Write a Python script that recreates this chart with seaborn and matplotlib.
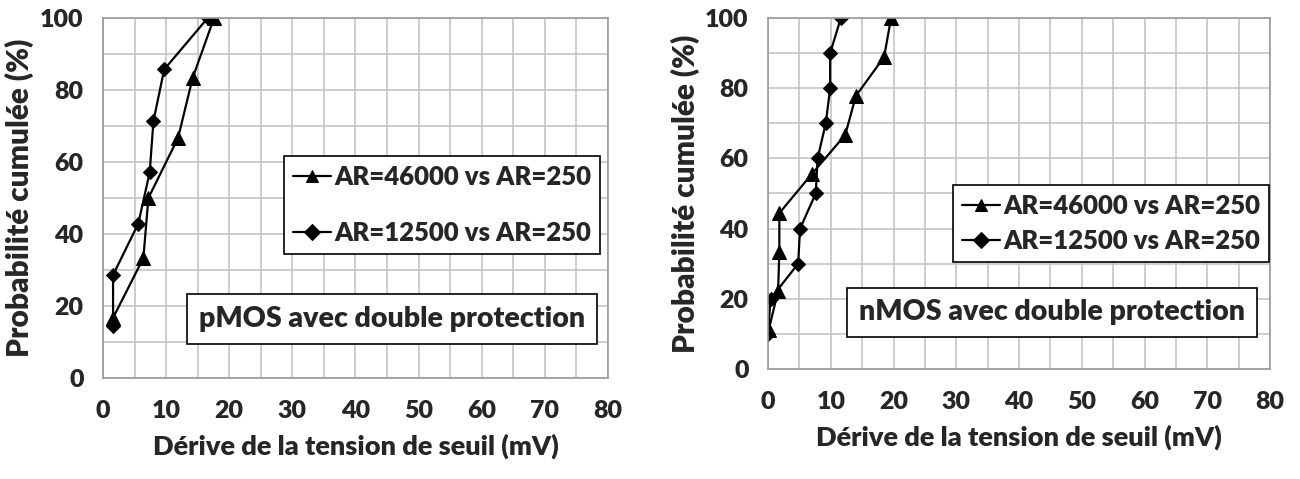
import numpy as np
import pandas as pd
import matplotlib
matplotlib.use("Agg")
import matplotlib.pyplot as plt
from matplotlib.ticker import MultipleLocator
import seaborn as sns

# Data
# -------------------------------------------------------------
SERIES = ["AR=46000 vs AR=250", "AR=12500 vs AR=250"]

# pMOS (double protection)
p_x_46000 = [1.6, 6.4, 7.2, 11.9, 14.2, 17.6]
p_y_46000 = [16.7, 33.3, 50.0, 66.7, 83.3, 100.0]
p_x_12500 = [1.6, 1.6, 5.6, 7.4, 8.0, 9.7, 16.6]
p_y_12500 = [14.3, 28.6, 42.9, 57.1, 71.4, 85.7, 100.0]

# nMOS (double protection)
n_x_46000 = [0.1, 1.6, 1.8, 1.8, 7.0, 12.3, 14.0, 18.5, 19.6]
n_y_46000 = [11.1, 22.2, 33.3, 44.4, 55.6, 66.7, 77.8, 88.9, 100.0]
n_x_12500 = [0.0, 0.4, 4.8, 5.1, 7.6, 7.9, 9.2, 9.9, 9.9, 11.6]
n_y_12500 = [10, 20, 30, 40, 50, 60, 70, 80, 90, 100]

PANEL_TITLES = ["pMOS avec double protection", "nMOS avec double protection"]
X_LABEL = "Dérive de la tension de seuil (mV)"
Y_LABEL = "Probabilité cumulée (%)"


def make_df(x46, y46, x125, y125):
    a = pd.DataFrame({"x": x46, "y": y46, "serie": SERIES[0]})
    b = pd.DataFrame({"x": x125, "y": y125, "serie": SERIES[1]})
    return pd.concat([a, b], ignore_index=True)


df_p = make_df(p_x_46000, p_y_46000, p_x_12500, p_y_12500)
df_n = make_df(n_x_46000, n_y_46000, n_x_12500, n_y_12500)

# Style
# -------------------------------------------------------------
sns.set_style("white")
plt.rcParams["font.family"] = ["Lato", "DejaVu Sans"]
W = "heavy"

GRID_COL = "#c0c0c0"
MARKERS = {SERIES[0]: "^", SERIES[1]: "D"}
PALETTE = {SERIES[0]: "black", SERIES[1]: "black"}

fig = plt.figure(figsize=(13, 4.79), dpi=100)
ax_p = fig.add_axes([0.0792, 0.2109, 0.3885, 0.7516])
ax_n = fig.add_axes([0.5908, 0.2297, 0.3862, 0.7327])

# (axes, data, legend centre, legend spacing, text-box centre)
setups = [
    (ax_p, df_p, (0.671, 0.481), 1.25, (0.572, 0.164)),
    (ax_n, df_n, (0.683, 0.415), 0.45, (0.566, 0.161)),
]

for (ax, df, leg_pos, leg_space, txt_pos), title in zip(setups, PANEL_TITLES):
    sns.lineplot(data=df, x="x", y="y", hue="serie", style="serie",
                 markers=MARKERS, dashes=False, palette=PALETTE,
                 sort=False, estimator=None, linewidth=1.6,
                 markersize=9, markeredgecolor="black", ax=ax)
    # diamonds a bit smaller than triangles, as in the reference
    for ln in ax.get_lines():
        if ln.get_marker() == "D":
            ln.set_markersize(7.5)
        elif ln.get_marker() == "^":
            ln.set_markersize(10.5)

    ax.set_xlim(0, 80)
    ax.set_ylim(0, 100)
    ax.xaxis.set_major_locator(MultipleLocator(10))
    ax.xaxis.set_minor_locator(MultipleLocator(5))
    ax.yaxis.set_major_locator(MultipleLocator(20))
    ax.yaxis.set_minor_locator(MultipleLocator(10))
    ax.grid(which="both", color=GRID_COL, linewidth=1.1)
    ax.set_axisbelow(True)
    for s in ax.spines.values():
        s.set_color("#9a9a9a")
        s.set_linewidth(1.2)
    ax.tick_params(which="both", length=0)
    ax.tick_params(axis="x", pad=16, labelsize=18)
    ax.tick_params(axis="y", pad=14, labelsize=18)
    for lab in ax.get_xticklabels() + ax.get_yticklabels():
        lab.set_fontweight(W)

    ax.set_xlabel(X_LABEL, fontsize=19.5, fontweight=W, labelpad=8)
    ax.set_ylabel(Y_LABEL, fontsize=21.5, fontweight=W, labelpad=4)

    handles, labels = ax.get_legend_handles_labels()
    ax.get_legend().remove()
    leg = ax.legend(handles=handles, labels=labels, loc="center",
                    bbox_to_anchor=leg_pos, fancybox=False, framealpha=1,
                    edgecolor="black", handlelength=1.5, handletextpad=0.1,
                    labelspacing=leg_space, borderpad=0.35, borderaxespad=0,
                    prop={"size": 18.5, "weight": W})
    leg.get_frame().set_linewidth(1.2)
    for h in leg.legend_handles:
        h.set_markersize(8)

    ax.text(txt_pos[0], txt_pos[1], title, transform=ax.transAxes,
            ha="center", va="center", fontsize=20.5, fontweight=W,
            bbox=dict(boxstyle="square,pad=0.42", facecolor="white",
                      edgecolor="black", linewidth=1.2))

fig.savefig("out.png", dpi=100)
